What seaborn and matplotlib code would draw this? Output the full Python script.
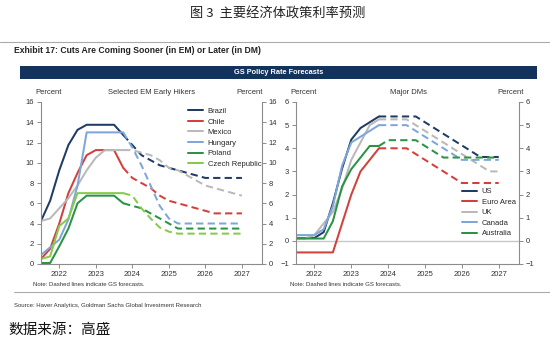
import matplotlib
matplotlib.use("Agg")
import matplotlib.pyplot as plt
from matplotlib.lines import Line2D
from matplotlib.patches import Rectangle
import seaborn as sns
import pandas as pd

# ---------------- data ----------------
quarters = [2021.5, 2021.75, 2022.0, 2022.25, 2022.5, 2022.75, 2023.0, 2023.25,
            2023.5, 2023.75, 2024.0, 2024.25, 2024.5, 2024.75, 2025.0, 2025.25,
            2025.5, 2025.75, 2026.0, 2026.25, 2026.5, 2026.75, 2027.0]
last_actual = 9  # index of 2023.75: forecasts (dashed) start here

em_names = ["Brazil", "Chile", "Mexico", "Hungary", "Poland", "Czech Republic"]
brazil = [4.25, 6.25, 9.25, 11.75, 13.25, 13.75, 13.75, 13.75, 13.75, 12.75, 11.75, 10.75,
          10.25, 9.75, 9.5, 9.25, 9.0, 8.75, 8.5, 8.5, 8.5, 8.5, 8.5]
chile = [0.5, 1.5, 4.0, 7.0, 9.0, 10.75, 11.25, 11.25, 11.25, 9.5, 8.5, 8.0,
         7.5, 6.75, 6.25, 6.0, 5.75, 5.5, 5.25, 5.0, 5.0, 5.0, 5.0]
mexico = [4.25, 4.5, 5.5, 6.5, 7.75, 9.25, 10.5, 11.25, 11.25, 11.25, 11.25, 11.0,
          10.75, 10.25, 9.5, 9.25, 8.75, 8.25, 7.75, 7.5, 7.25, 7.0, 6.75]
hungary = [0.9, 1.65, 2.4, 4.4, 7.75, 13.0, 13.0, 13.0, 13.0, 13.0, 11.5, 9.75,
           7.75, 5.75, 4.5, 4.0, 4.0, 4.0, 4.0, 4.0, 4.0, 4.0, 4.0]
poland = [0.1, 0.1, 1.75, 3.5, 6.0, 6.75, 6.75, 6.75, 6.75, 6.0, 5.75, 5.5,
          5.0, 4.5, 4.0, 3.5, 3.5, 3.5, 3.5, 3.5, 3.5, 3.5, 3.5]
czech = [0.5, 0.75, 3.75, 4.5, 7.0, 7.0, 7.0, 7.0, 7.0, 7.0, 6.75, 5.5,
         4.5, 3.6, 3.2, 3.0, 3.0, 3.0, 3.0, 3.0, 3.0, 3.0, 3.0]
em_values = [brazil, chile, mexico, hungary, poland, czech]

dm_names = ["US", "Euro Area", "UK", "Canada", "Australia"]
us = [0.125, 0.125, 0.125, 0.375, 1.625, 3.125, 4.375, 4.875, 5.125, 5.375, 5.375, 5.375,
      5.375, 5.375, 5.125, 4.875, 4.625, 4.375, 4.125, 3.875, 3.625, 3.625, 3.625]
euro = [-0.5, -0.5, -0.5, -0.5, -0.5, 0.75, 2.0, 3.0, 3.5, 4.0, 4.0, 4.0,
        4.0, 3.75, 3.5, 3.25, 3.0, 2.75, 2.5, 2.5, 2.5, 2.5, 2.5]
uk = [0.1, 0.1, 0.25, 0.75, 1.25, 2.25, 3.5, 4.25, 5.0, 5.25, 5.25, 5.25,
      5.25, 5.0, 4.75, 4.5, 4.25, 4.0, 3.75, 3.5, 3.25, 3.0, 3.0]
canada = [0.25, 0.25, 0.25, 0.5, 1.5, 3.25, 4.25, 4.5, 4.75, 5.0, 5.0, 5.0,
          5.0, 4.75, 4.5, 4.25, 4.0, 3.75, 3.5, 3.5, 3.5, 3.5, 3.5]
australia = [0.1, 0.1, 0.1, 0.1, 0.85, 2.35, 3.1, 3.6, 4.1, 4.1, 4.35, 4.35,
             4.35, 4.35, 4.1, 3.85, 3.6, 3.6, 3.6, 3.6, 3.6, 3.6, 3.6]
dm_values = [us, euro, uk, canada, australia]

year_ticks = [2022, 2023, 2024, 2025, 2026, 2027]
em_yticks = [0, 2, 4, 6, 8, 10, 12, 14, 16]
dm_yticks = [-1, 0, 1, 2, 3, 4, 5, 6]

em_colors = ["#1f3b66", "#d2403c", "#b9b9b9", "#7ea6da", "#2a9346", "#86cc4a"]
dm_colors = ["#1f3b66", "#d2403c", "#b9b9b9", "#7ea6da", "#2a9346"]

# ---------------- style ----------------
sns.set_theme(style="white")
plt.rcParams["font.family"] = ["Liberation Sans", "Noto Sans CJK SC", "DejaVu Sans"]
plt.rcParams["axes.unicode_minus"] = True

fig = plt.figure(figsize=(5.5, 3.44), dpi=100)
fig.patch.set_facecolor("white")

ax1 = fig.add_axes([41 / 550, 80 / 344, 221 / 550, 162 / 344])
ax2 = fig.add_axes([296 / 550, 80 / 344, 223 / 550, 162 / 344])

DASH = (0, (3.6, 2.1))
LW = 1.45


def draw_panel(ax, names, values, colors):
    for name, vals, col in zip(names, values, colors):
        act = pd.DataFrame({"year": quarters[:last_actual + 1], "rate": vals[:last_actual + 1]})
        fc = pd.DataFrame({"year": quarters[last_actual:], "rate": vals[last_actual:]})
        sns.lineplot(data=act, x="year", y="rate", ax=ax, color=col, lw=LW,
                     errorbar=None, legend=False)
        sns.lineplot(data=fc, x="year", y="rate", ax=ax, color=col, lw=LW,
                     linestyle=DASH, errorbar=None, legend=False)


def style_axes(ax, yticks):
    ax.set_xlim(2021.5, 2027.55)
    ax.set_ylim(yticks[0], yticks[-1])
    ax.set_xticks(year_ticks)
    ax.set_xticklabels([str(y) for y in year_ticks])
    ax.set_yticks(yticks)
    ax.set_xlabel("")
    ax.set_ylabel("")
    for s in ["left", "right", "bottom"]:
        ax.spines[s].set_visible(True)
        ax.spines[s].set_color("#8c8c8c")
        ax.spines[s].set_linewidth(0.8)
    ax.spines["top"].set_visible(False)
    ax.tick_params(axis="both", which="both", labelsize=5.5, labelcolor="#333333",
                   color="#8c8c8c", length=3, width=0.7, pad=2, direction="out")
    ax.tick_params(axis="y", left=True, right=True, labelleft=True, labelright=True)
    ax.tick_params(axis="x", bottom=True)
    ax.grid(False)
    ax.set_facecolor("white")


draw_panel(ax1, em_names, em_values, em_colors)
style_axes(ax1, em_yticks)

ax2.axhline(0, color="#c8c8c8", lw=1.0, zorder=0)
draw_panel(ax2, dm_names, dm_values, dm_colors)
style_axes(ax2, dm_yticks)

# legends
h1 = [Line2D([0], [0], color=c, lw=LW) for c in em_colors]
ax1.legend(h1, em_names, loc="upper left", bbox_to_anchor=((188 - 41) / 221, 0.965),
           frameon=False, fontsize=5.5, handlelength=2.0, handletextpad=0.6,
           labelspacing=0.42, borderpad=0, borderaxespad=0)
h2 = [Line2D([0], [0], color=c, lw=LW) for c in dm_colors]
ax2.legend(h2, dm_names, loc="upper left", bbox_to_anchor=((462 - 296) / 223, 0.47),
           frameon=False, fontsize=5.5, handlelength=2.0, handletextpad=0.6,
           labelspacing=0.42, borderpad=0, borderaxespad=0)

# ---------------- texts / decorations ----------------
def fy(py):
    return 1 - py / 344


def fx(px):
    return px / 550


fig.text(fx(278), fy(14), "图 3  主要经济体政策利率预测", ha="center", va="center",
         fontsize=9.5, color="#222222", family=["Noto Sans CJK SC", "DejaVu Sans"])

fig.add_artist(Line2D([0, 1], [fy(42), fy(42)], color="#aaaaaa", lw=0.8,
                      transform=fig.transFigure))
fig.text(fx(14), fy(50.5), "Exhibit 17: Cuts Are Coming Sooner (in EM) or Later (in DM)",
         ha="left", va="center", fontsize=6.2, fontweight="bold", color="#222222")

fig.add_artist(Rectangle((fx(20), fy(79)), fx(517), 13 / 344, transform=fig.transFigure,
                         facecolor="#14335c", edgecolor="none"))
fig.text(fx(279), fy(72.5), "GS Policy Rate Forecasts", ha="center", va="center",
         fontsize=5.3, fontweight="bold", color="white")

hdr_y = fy(92)
fig.text(fx(49), hdr_y, "Percent", ha="center", va="center", fontsize=5.5, color="#333333")
fig.text(fx(152), hdr_y, "Selected EM Early Hikers", ha="center", va="center",
         fontsize=5.5, color="#333333")
fig.text(fx(250), hdr_y, "Percent", ha="center", va="center", fontsize=5.5, color="#333333")
fig.text(fx(304), hdr_y, "Percent", ha="center", va="center", fontsize=5.5, color="#333333")
fig.text(fx(408), hdr_y, "Major DMs", ha="center", va="center", fontsize=5.5, color="#333333")
fig.text(fx(511), hdr_y, "Percent", ha="center", va="center", fontsize=5.5, color="#333333")

fig.text(fx(33), fy(284), "Note: Dashed lines indicate GS forecasts.", ha="left",
         va="center", fontsize=4.3, color="#333333")
fig.text(fx(290), fy(284), "Note: Dashed lines indicate GS forecasts.", ha="left",
         va="center", fontsize=4.3, color="#333333")

fig.add_artist(Line2D([fx(14), 1], [fy(292), fy(292)], color="#aaaaaa", lw=0.8,
                      transform=fig.transFigure))
fig.text(fx(14), fy(305), "Source: Haver Analytics, Goldman Sachs Global Investment Research",
         ha="left", va="center", fontsize=4.3, color="#333333")

fig.text(fx(8), fy(330), "数据来源：高盛", ha="left", va="center", fontsize=10.5,
         color="#111111", family=["Noto Sans CJK SC", "DejaVu Sans"])

fig.savefig("out.png", dpi=100, facecolor="white")
